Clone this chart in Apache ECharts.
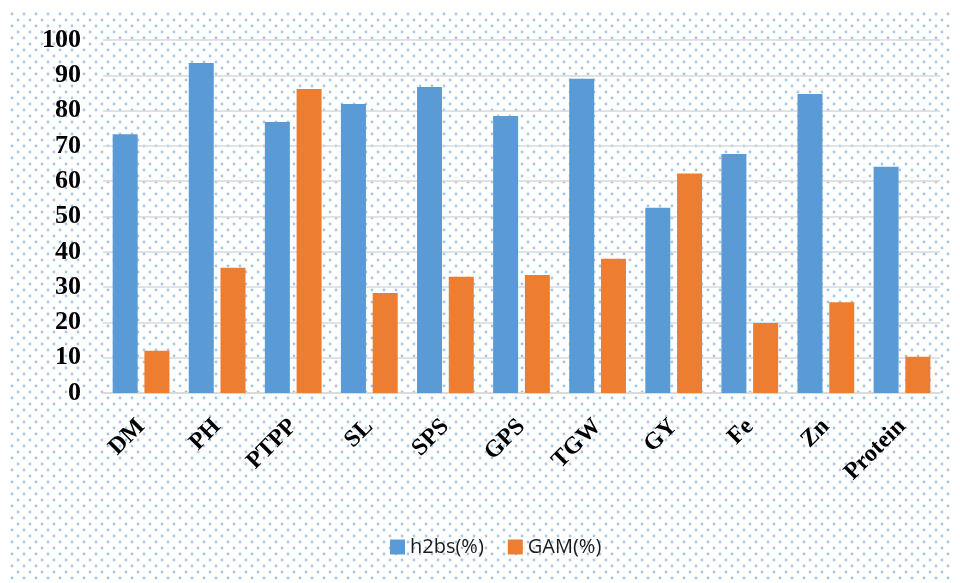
<!DOCTYPE html>
<html lang="en">
<head>
<meta charset="utf-8">
<title>h2bs and GAM</title>
<script src="https://cdn.jsdelivr.net/npm/echarts@6/dist/echarts.min.js"></script>
<style>
  html, body { margin: 0; padding: 0; background: #fff; }
  #main { width: 960px; height: 583px; }
</style>
</head>
<body>
<div id="main"></div>
<script type="text/javascript">
  // traits on x axis
  let traits = ['DM', 'PH', 'PTPP', 'SL', 'SPS', 'GPS', 'TGW', 'GY', 'Fe', 'Zn', 'Protein'];
  // broad-sense heritability (%)
  let h2bs = [73.3, 93.5, 76.8, 81.9, 86.7, 78.5, 89.0, 52.5, 67.7, 84.7, 64.1];
  // genetic advance as % of mean
  let gam = [12.0, 35.5, 86.1, 28.3, 32.9, 33.4, 38.0, 62.2, 19.8, 25.7, 10.3];
  let seriesNames = ['h2bs(%)', 'GAM(%)'];

  // dotted background like the original chart area
  let tile = document.createElement('canvas');
  tile.width = 12;
  tile.height = 12;
  let ctx = tile.getContext('2d');
  ctx.fillStyle = '#ffffff';
  ctx.fillRect(0, 0, 12, 12);
  ctx.fillStyle = '#a3c5e8';
  [[3, 3], [9, 9]].forEach((p) => {
    ctx.beginPath();
    ctx.arc(p[0], p[1], 1.4, 0, Math.PI * 2);
    ctx.fill();
  });

  let chart = echarts.init(document.getElementById('main'));

  let serif = '"Liberation Serif", "Times New Roman", serif';

  let option = {
    backgroundColor: '#ffffff',
    animation: false,
    graphic: [{
      type: 'rect',
      left: 9,
      top: 11,
      z: -10,
      silent: true,
      shape: { width: 941, height: 570 },
      style: { fill: { image: tile, repeat: 'repeat' } }
    }],
    grid: { left: 103, right: 20, top: 40, bottom: 190 },
    legend: {
      data: seriesNames,
      bottom: 21,
      left: 385,
      itemWidth: 15,
      itemHeight: 15,
      itemGap: 24,
      icon: 'rect',
      textStyle: { fontFamily: '"Open Sans", "Noto Sans", sans-serif', fontSize: 20, color: '#1a1a1a' }
    },
    xAxis: {
      type: 'category',
      data: traits,
      axisLine: { lineStyle: { color: '#d9d9d9', width: 1.5 } },
      axisTick: { show: false },
      axisLabel: {
        rotate: 45,
        margin: 30,
        interval: 0,
        fontFamily: serif,
        fontWeight: 'bold',
        fontSize: 24,
        color: '#000'
      }
    },
    yAxis: {
      type: 'value',
      min: 0,
      max: 100,
      interval: 10,
      axisLine: { show: false },
      axisTick: { show: false },
      splitLine: { lineStyle: { color: '#d9d9d9', width: 1.5 } },
      axisLabel: {
        margin: 22,
        fontFamily: serif,
        fontWeight: 'bold',
        fontSize: 26,
        color: '#000'
      }
    },
    series: [
      {
        name: seriesNames[0],
        type: 'bar',
        data: h2bs,
        barWidth: 25,
        barGap: '27%',
        itemStyle: { color: '#5b9bd5' }
      },
      {
        name: seriesNames[1],
        type: 'bar',
        data: gam,
        barWidth: 25,
        barGap: '27%',
        itemStyle: { color: '#ed7d31' }
      }
    ]
  };

  chart.setOption(option);
</script>
</body>
</html>
